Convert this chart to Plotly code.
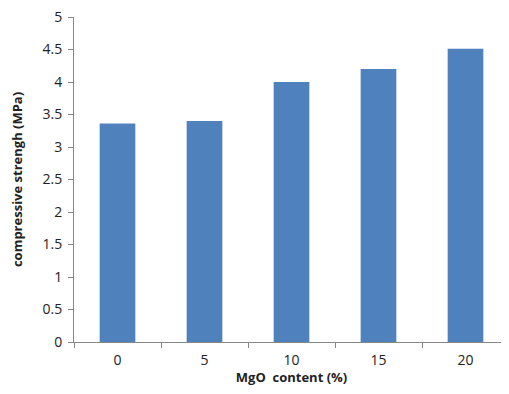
import plotly.graph_objects as go

categories = ["0", "5", "10", "15", "20"]
strength = [3.36, 3.40, 4.00, 4.20, 4.51]

fig = go.Figure(go.Bar(x=categories, y=strength, marker_color="#4F81BD",
                       marker_line_width=0, width=0.41))
axis_color = "#868686"
fig.update_layout(
    width=501, height=378,
    margin=dict(l=66, r=0, t=9, b=44, pad=0),
    plot_bgcolor="white", paper_bgcolor="white",
    font=dict(family="Open Sans, Liberation Sans, sans-serif", color="#222222"),
    showlegend=False,
)
fig.update_xaxes(type="category", showline=True, linecolor=axis_color, linewidth=1,
                 ticks="outside", tickson="boundaries", ticklen=5, tickcolor=axis_color,
                 tickfont=dict(size=14), showgrid=False, automargin=False,
                 ticklabelstandoff=5,
                 title=dict(text="<b>MgO  content (%)</b>", font=dict(size=13), standoff=5))
fig.update_yaxes(range=[0, 5], dtick=0.5, showline=True, linecolor=axis_color, linewidth=1,
                 ticks="outside", ticklen=5, tickcolor=axis_color, showgrid=False,
                 tickfont=dict(size=14), zeroline=False, automargin=False,
                 ticklabeloverflow="allow", ticklabelstandoff=3,
                 title=dict(text="<b>compressive strengh (MPa)</b>", font=dict(size=13), standoff=16))
fig.write_html("out.html")
